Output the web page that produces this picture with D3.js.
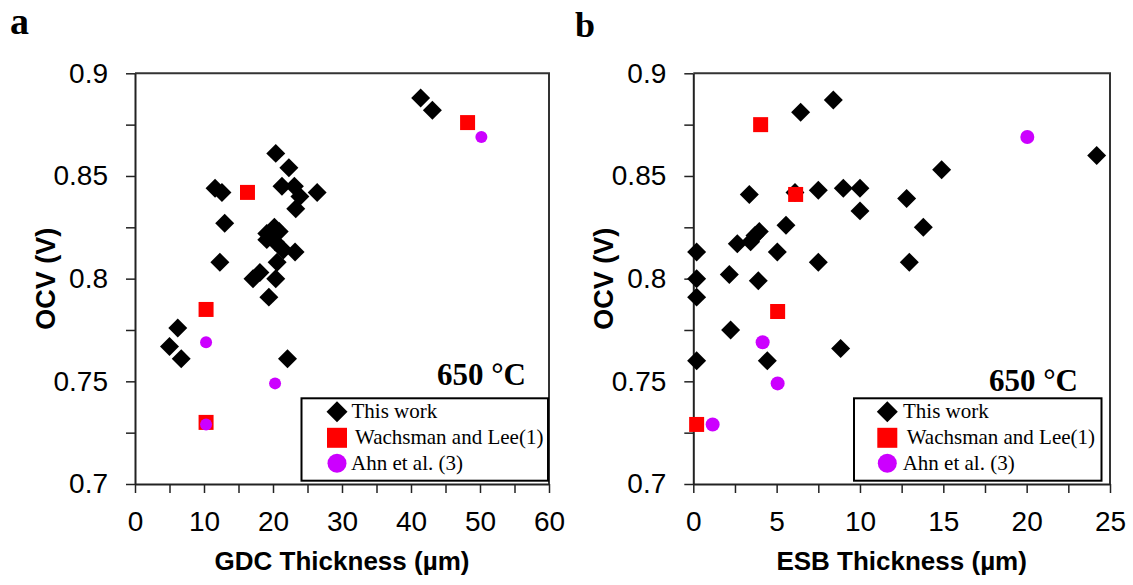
<!DOCTYPE html>
<html>
<head>
  <meta charset="UTF-8">
  <title>OCV vs thickness</title>
  <style>
    body { margin: 0; background: #fff; }
    .tick text { font-family: Arial, "Liberation Sans", sans-serif; font-size: 28px; fill: #000; }
    .axis-title { font-family: Arial, "Liberation Sans", sans-serif; font-weight: bold; fill: #000; }
    .serif { font-family: "Times New Roman", "Liberation Serif", serif; fill: #000; }
  </style>
</head>
<body>
  <svg width="1133" height="585"></svg>

  <script src="https://d3js.org/d3.v7.min.js"></script>
  <script>
    // panel a: OCV vs GDC thickness (um, V)
    const gdcThisWork = [
      [41.4, 0.888], [43.1, 0.882], [20.4, 0.861], [22.3, 0.854], [11.6, 0.844],
      [12.6, 0.842], [21.3, 0.845], [23.1, 0.845], [23.9, 0.840], [26.4, 0.842],
      [23.3, 0.834], [13.0, 0.827], [19.1, 0.822], [20.2, 0.825], [20.9, 0.823],
      [19.1, 0.819], [20.3, 0.818], [21.5, 0.814], [23.2, 0.813], [20.6, 0.808],
      [12.3, 0.808], [17.1, 0.800], [18.1, 0.803], [20.4, 0.800], [19.4, 0.791],
      [6.2, 0.776], [5.0, 0.767], [6.7, 0.761], [22.1, 0.761]
    ];
    const gdcWachsman = [[48.2, 0.876], [16.3, 0.842], [10.3, 0.785], [10.3, 0.730]];
    const gdcAhn = [[50.2, 0.869], [10.3, 0.769], [20.3, 0.749], [10.3, 0.729]];

    // panel b: OCV vs ESB thickness
    const esbThisWork = [
      [8.4, 0.887], [6.44, 0.881], [24.2, 0.860], [14.9, 0.853], [3.36, 0.841],
      [6.1, 0.842], [7.5, 0.843], [9.0, 0.844], [10.0, 0.844], [10.0, 0.833],
      [12.8, 0.839], [13.8, 0.825], [5.56, 0.826], [3.96, 0.823], [3.7, 0.821],
      [3.44, 0.818], [2.64, 0.817], [5.04, 0.813], [0.2, 0.813], [7.5, 0.808],
      [12.96, 0.808], [2.16, 0.802], [0.2, 0.800], [3.9, 0.799], [0.2, 0.791],
      [2.24, 0.775], [8.84, 0.766], [4.44, 0.760], [0.2, 0.760]
    ];
    const esbWachsman = [[4.04, 0.875], [6.14, 0.841], [5.06, 0.784], [0.2, 0.729]];
    const esbAhn = [[20.04, 0.869], [4.16, 0.769], [5.06, 0.749], [1.16, 0.729]];

    const seriesNames = ["This work", "Wachsman and Lee(1)", "Ahn et al. (3)"];
    const yDomain = [0.7, 0.9];
    const yTicks = d3.range(0, 9).map(i => +(0.7 + i * 0.025).toFixed(3));
    const gdcTicks = d3.range(0, 61, 5);
    const esbTicks = d3.range(0, 25.1, 2.5);

    const svg = d3.select("svg");
    const plotTop = 73.3, plotBottom = 484;

    const panels = [
      {
        label: "a", labelX: 10, labelY: 34, labelSize: 38, left: 135, right: 549,
        xDomain: [0, 60], xTicks: gdcTicks, xLabelEvery: 10, xTitle: "GDC Thickness (\u00b5m)",
        data: [gdcThisWork, gdcWachsman, gdcAhn], circleR: 6,
        tempX: 526, tempY: 385,
        legend: { x: 301.5, y: 398.3, w: 246.5, h: 82.4, symX: 337, textX: [351.5, 355, 351] }
      },
      {
        label: "b", labelX: 575, labelY: 37, labelSize: 36, left: 693.3, right: 1110,
        xDomain: [0, 25], xTicks: esbTicks, xLabelEvery: 5, xTitle: "ESB Thickness (\u00b5m)",
        data: [esbThisWork, esbWachsman, esbAhn], circleR: 7,
        tempX: 1078, tempY: 391,
        legend: { x: 854, y: 398.3, w: 247.5, h: 82.4, symX: 887.3, textX: [903, 906.7, 902.7] }
      }
    ];

    const diamond = d3.symbol(d3.symbolSquare, 180);
    const square = d3.symbol(d3.symbolSquare, 225);

    panels.forEach(p => {
      const x = d3.scaleLinear().domain(p.xDomain).range([p.left, p.right]);
      const y = d3.scaleLinear().domain(yDomain).range([plotBottom, plotTop]);

      // frame top / right
      svg.append("path")
        .attr("d", `M${p.left},${plotTop}H${p.right}V${plotBottom}`)
        .attr("fill", "none").attr("stroke", "#333").attr("stroke-width", 2);

      const yAxis = svg.append("g")
        .attr("transform", `translate(${p.left},0)`)
        .call(d3.axisLeft(y).tickValues(yTicks).tickSize(9).tickSizeOuter(0).tickPadding(18)
          .tickFormat(d => Math.abs(d * 20 - Math.round(d * 20)) < 1e-6 ? d3.format("")(+d.toFixed(2)) : ""));
      const xAxis = svg.append("g")
        .attr("transform", `translate(0,${plotBottom})`)
        .call(d3.axisBottom(x).tickValues(p.xTicks).tickSize(9).tickSizeOuter(0).tickPadding(18)
          .tickFormat(d => d % p.xLabelEvery === 0 ? d : ""));
      [yAxis, xAxis].forEach(ax => {
        ax.select(".domain").attr("stroke", "#222").attr("stroke-width", 2);
        ax.selectAll(".tick line").attr("stroke", "#222").attr("stroke-width", 1.5);
      });

      // axis titles
      svg.append("text").attr("class", "axis-title")
        .attr("x", (p.left + p.right) / 2).attr("y", plotBottom + 86)
        .attr("text-anchor", "middle").attr("font-size", 26)
        .text(p.xTitle);
      svg.append("text").attr("class", "axis-title")
        .attr("transform", `translate(${p.left - 80},${(plotTop + plotBottom) / 2}) rotate(-90)`)
        .attr("text-anchor", "middle").attr("font-size", 27)
        .text("OCV (V)");

      // panel letter
      svg.append("text").attr("class", "serif")
        .attr("x", p.labelX).attr("y", p.labelY)
        .attr("font-size", p.labelSize).attr("font-weight", "bold")
        .text(p.label);

      // points
      const [work, wach, ahn] = p.data;
      svg.append("g").selectAll("path").data(work).join("path")
        .attr("d", diamond)
        .attr("transform", d => `translate(${x(d[0])},${y(d[1])}) rotate(45)`)
        .attr("fill", "#000");
      svg.append("g").selectAll("path").data(wach).join("path")
        .attr("d", square)
        .attr("transform", d => `translate(${x(d[0])},${y(d[1])})`)
        .attr("fill", "#ff0000");
      svg.append("g").selectAll("circle").data(ahn).join("circle")
        .attr("cx", d => x(d[0])).attr("cy", d => y(d[1]))
        .attr("r", p.circleR).attr("fill", "#cc00ff");

      // temperature
      svg.append("text").attr("class", "serif")
        .attr("x", p.tempX).attr("y", p.tempY)
        .attr("text-anchor", "end").attr("font-size", 31).attr("font-weight", "bold")
        .text("650 \u00b0C");

      // legend
      const L = p.legend;
      svg.append("rect")
        .attr("x", L.x).attr("y", L.y).attr("width", L.w).attr("height", L.h)
        .attr("fill", "#fff").attr("stroke", "#000").attr("stroke-width", 2);
      const rowY = [L.y + 13.5, L.y + 39.5, L.y + 65];
      svg.append("path")
        .attr("d", d3.symbol(d3.symbolSquare, 220)())
        .attr("transform", `translate(${L.symX},${rowY[0]}) rotate(45)`)
        .attr("fill", "#000");
      svg.append("rect")
        .attr("x", L.symX - 10).attr("y", rowY[1] - 10).attr("width", 20).attr("height", 20)
        .attr("fill", "#ff0000");
      svg.append("circle")
        .attr("cx", L.symX).attr("cy", rowY[2]).attr("r", 9.5)
        .attr("fill", "#cc00ff");
      seriesNames.forEach((name, i) => {
        svg.append("text").attr("class", "serif")
          .attr("x", L.textX[i]).attr("y", rowY[i] + 6.5)
          .attr("font-size", 21)
          .text(name);
      });
    });
  </script>
</body>
</html>
